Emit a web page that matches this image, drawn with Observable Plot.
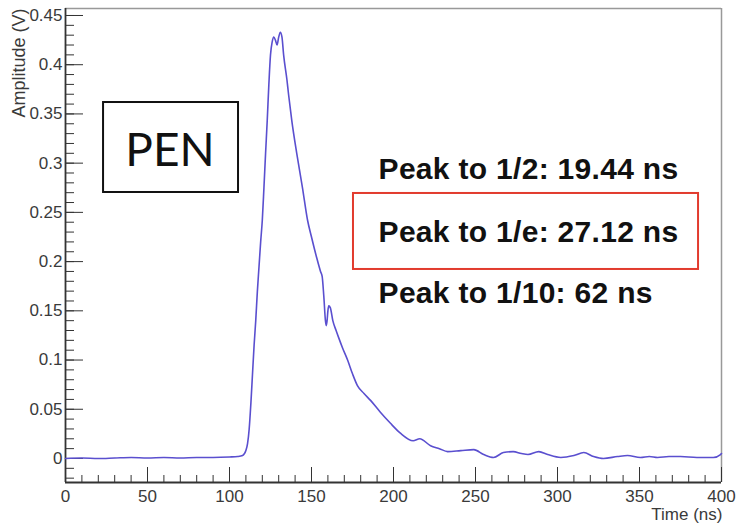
<!DOCTYPE html>
<html><head><meta charset="utf-8">
<script src="https://cdn.jsdelivr.net/npm/d3@7"></script>
<script src="https://cdn.jsdelivr.net/npm/@observablehq/plot@0.6"></script>
<style>body{margin:0;background:#fff}</style>
</head><body><div id="chart"></div>
<script>
// Waveform (time in ns, amplitude in V)
const time = [0,10,20,30,40,50,60,70,80,90,100,105,108,110,111,112,113,114,115,116,117,118,119,120,121,122,123,124,125,126,127,128,129,130,131,132,133,135,136,138,141,144.5,147.6,150,153,155.5,156.5,157.5,158.5,159,159.5,160,160.5,161.5,163,165,166.5,169,172,175,178,182,186,192,198,204,212,216,222.6,228,233,241,249,255,261,267,273,278,282,288.6,294,302,310,316,322,328,336.6,342.7,350.6,356,361,368,375,385,395,399.4,400];
const amplitude = [0,0.0005,0,0.0005,0.001,0.0005,0.001,0.0005,0.001,0.001,0.0015,0.002,0.003,0.008,0.015,0.03,0.055,0.085,0.115,0.14,0.17,0.195,0.22,0.242,0.275,0.31,0.343,0.38,0.41,0.423,0.428,0.425,0.42,0.428,0.433,0.428,0.41,0.385,0.37,0.343,0.31,0.275,0.242,0.225,0.205,0.19,0.185,0.165,0.14,0.135,0.14,0.15,0.155,0.153,0.14,0.13,0.123,0.112,0.1,0.086,0.074,0.066,0.059,0.047,0.036,0.026,0.018,0.02,0.013,0.01,0.007,0.008,0.009,0.004,0.001,0.006,0.007,0.005,0.004,0.007,0.004,0.001,0.003,0.006,0.002,0,0.002,0.003,0.001,0.002,0.001,0.002,0.002,0.001,0.001,0.004,0.005];

const xMajorTicks = [0,50,100,150,200,250,300,350,400];
const xMinorTicks = d3.range(0, 401, 10);
const yMajorTicks = [0,0.05,0.1,0.15,0.2,0.25,0.3,0.35,0.4,0.45];
const yMinorTicks = d3.range(-2, 46).map(d => d / 100);
const yTickLabels = ["0","0.05","0.1","0.15","0.2","0.25","0.3","0.35","0.4","0.45"];

const annLabels = ["Peak to 1/2: 19.44 ns", "Peak to 1/e: 27.12 ns", "Peak to 1/10: 62 ns"];
const annY = [0.2834, 0.2194, 0.1575];
const boxLabel = ["PEN"];

const data = time.map((t, i) => ({t, v: amplitude[i]}));
const W = 738, H = 525, mL = 65, mR = 17, mT = 8, mB = 43;
const pw = W - mL - mR, ph = H - mT - mB;
const yMin = -0.0244, yMax = 0.4571;

const chart = Plot.plot({
  width: W, height: H,
  marginLeft: mL, marginRight: mR, marginTop: mT, marginBottom: mB,
  x: {domain: [0, 400]},
  y: {domain: [yMin, yMax]},
  style: {fontFamily: "'Liberation Sans', Arial, sans-serif", fontSize: "17px", color: "#3a3a3a", background: "#fff"},
  marks: [
    Plot.ruleY([yMax], {stroke: "#999", strokeWidth: 1.5}),
    Plot.ruleX([400], {stroke: "#999", strokeWidth: 1.5}),
    Plot.tickX(xMinorTicks, {x: d => d, stroke: "#333", insetTop: ph - 7}),
    Plot.tickX(xMajorTicks, {x: d => d, stroke: "#333", insetTop: ph - 15}),
    Plot.tickY(yMinorTicks, {y: d => d, stroke: "#333", insetRight: pw - 9}),
    Plot.tickY(yMajorTicks, {y: d => d, stroke: "#333", insetRight: pw - 18}),
    Plot.ruleX([0], {stroke: "#333", strokeWidth: 1.8}),
    Plot.ruleY([yMin], {stroke: "#333", strokeWidth: 1.8}),
    Plot.line(data, {x: "t", y: "v", stroke: "#5a4fcf", strokeWidth: 1.6, curve: "monotone-x"}),
    Plot.axisX({ticks: xMajorTicks, tickSize: 0, tickPadding: 7, fontSize: 17, label: null, tickFormat: d => String(d)}),
    Plot.axisY({ticks: yMajorTicks, tickSize: 0, tickPadding: 3, fontSize: 17, label: null, tickFormat: d => yTickLabels[yMajorTicks.indexOf(d)]}),
    Plot.text(["Amplitude (V)"], {frameAnchor: "top-left", dx: -41, rotate: -90, textAnchor: "end", lineAnchor: "bottom", fontSize: 18, fill: "#3a3a3a"}),
    Plot.text(["Time (ns)"], {frameAnchor: "bottom-right", dx: 1, dy: 37, textAnchor: "end", lineAnchor: "bottom", fontSize: 17, fill: "#3a3a3a"}),
    Plot.rect([0], {x1: () => 23.2, x2: () => 105.5, y1: () => 0.2702, y2: () => 0.3616, fill: "white", stroke: "#111", strokeWidth: 2}),
    Plot.text(boxLabel, {x: () => 63.7, y: () => 0.2976, text: d => d, textAnchor: "middle", lineAnchor: "bottom", fontSize: 46, fontFamily: "Lato, 'Open Sans', sans-serif", fill: "#111"}),
    Plot.rect([0], {x1: () => 175.6, x2: () => 386, y1: () => 0.192, y2: () => 0.2692, fill: "none", stroke: "#e23b2e", strokeWidth: 2}),
    Plot.text(annLabels, {x: () => 190.9, y: (d, i) => annY[i], text: d => d, textAnchor: "start", lineAnchor: "bottom", fontSize: 30, fontWeight: "bold", fill: "#111"})
  ]
});
d3.select(chart).selectAll("text").filter(function() { return this.textContent.startsWith("Peak"); })
  .style("letter-spacing", "0.3px");
document.getElementById("chart").append(chart);
</script>
</body></html>
